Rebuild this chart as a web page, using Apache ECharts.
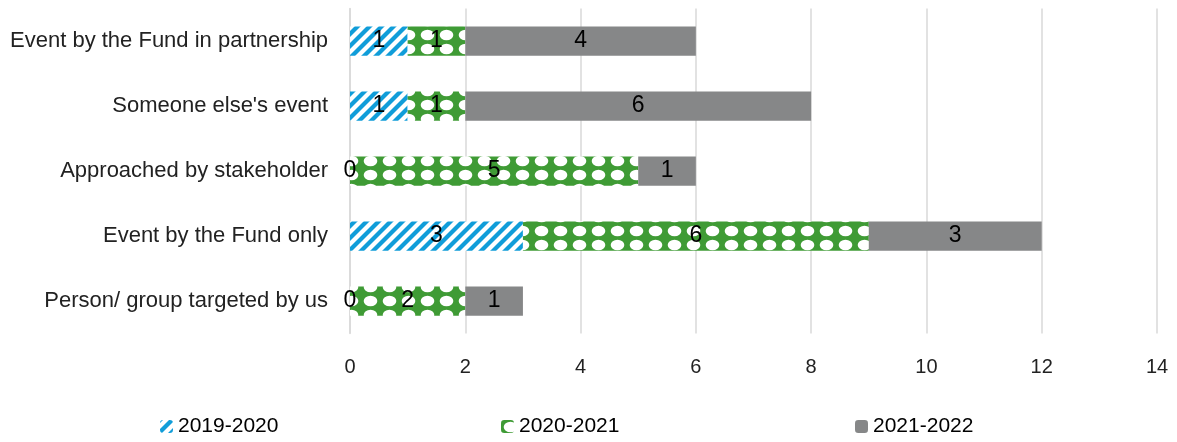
<!DOCTYPE html>
<html>
<head>
<meta charset="utf-8">
<script src="https://cdn.jsdelivr.net/npm/echarts@6/dist/echarts.min.js"></script>
<style>
html,body{margin:0;padding:0;background:#fff;}
#chart{width:1177px;height:442px;}
</style>
</head>
<body>
<div id="chart"></div>
<script>
var categories = ["Event by the Fund in partnership", "Someone else's event", "Approached by stakeholder", "Event by the Fund only", "Person/ group targeted by us"];
var seriesNames = ["2019-2020", "2020-2021", "2021-2022"];
var values2019 = [1, 1, 0, 3, 0];
var values2020 = [1, 1, 5, 6, 2];
var values2021 = [4, 6, 1, 3, 1];
var xTicks = [0, 2, 4, 6, 8, 10, 12, 14];

function stripeCanvas() {
  var c = document.createElement('canvas');
  c.width = 12; c.height = 12;
  var ctx = c.getContext('2d');
  ctx.fillStyle = '#ffffff';
  ctx.fillRect(0, 0, 12, 12);
  ctx.strokeStyle = '#109dd9';
  ctx.lineWidth = 4.2;
  ctx.lineCap = 'square';
  for (var k = -1; k <= 1; k++) {
    ctx.beginPath();
    ctx.moveTo(k * 12 - 2, 14);
    ctx.lineTo(k * 12 + 14, -2);
    ctx.stroke();
  }
  return c;
}
function dotCanvas() {
  var c = document.createElement('canvas');
  c.width = 19; c.height = 14;
  var ctx = c.getContext('2d');
  ctx.fillStyle = '#3f9b35';
  ctx.fillRect(0, 0, 19, 14);
  ctx.fillStyle = '#ffffff';
  ctx.beginPath();
  ctx.ellipse(9.5, 7, 6.8, 5.2, 0, 0, Math.PI * 2);
  ctx.fill();
  return c;
}
var blue = { image: stripeCanvas(), repeat: 'repeat' };
var green = { image: dotCanvas(), repeat: 'repeat' };
var gray = '#868788';
var FONT = 'Liberation Sans, sans-serif';

var chart = echarts.init(document.getElementById('chart'));
var labelStyle = { show: true, position: 'inside', color: '#000', fontSize: 23, fontFamily: FONT };
function mk(name, data, color) {
  return {
    name: name, type: 'bar', stack: 'total', data: data, barCategoryGap: '55%',
    itemStyle: { color: color },
    label: labelStyle,
    emphasis: { disabled: true }
  };
}
var legendBase = { bottom: 0, itemWidth: 13, itemHeight: 13, itemGap: 8, textStyle: { fontSize: 21, color: '#000', fontFamily: FONT } };
chart.setOption({
  animation: false,
  grid: { left: 350, right: 20, top: 8.5, bottom: 108.5, containLabel: false },
  xAxis: {
    type: 'value', min: 0, max: 14, interval: 2,
    axisLine: { show: false }, axisTick: { show: false },
    splitLine: { lineStyle: { color: '#d9d9d9', width: 1.5 } },
    axisLabel: { fontSize: 20, color: '#222', margin: 24, fontFamily: FONT,
      formatter: function (v) { return xTicks.indexOf(v) >= 0 ? String(v) : ''; } }
  },
  yAxis: {
    type: 'category', data: categories, inverse: true,
    axisLine: { show: true, lineStyle: { color: '#d9d9d9', width: 1.5 } }, axisTick: { show: false },
    axisLabel: { fontSize: 22, color: '#222', margin: 22, fontFamily: FONT }
  },
  legend: [
    Object.assign({}, legendBase, { left: 155, data: [seriesNames[0]] }),
    Object.assign({}, legendBase, { left: 496, data: [seriesNames[1]] }),
    Object.assign({}, legendBase, { left: 850, data: [seriesNames[2]] })
  ],
  series: [
    mk(seriesNames[0], values2019, blue),
    mk(seriesNames[1], values2020, green),
    mk(seriesNames[2], values2021, gray)
  ]
});
</script>
</body>
</html>
